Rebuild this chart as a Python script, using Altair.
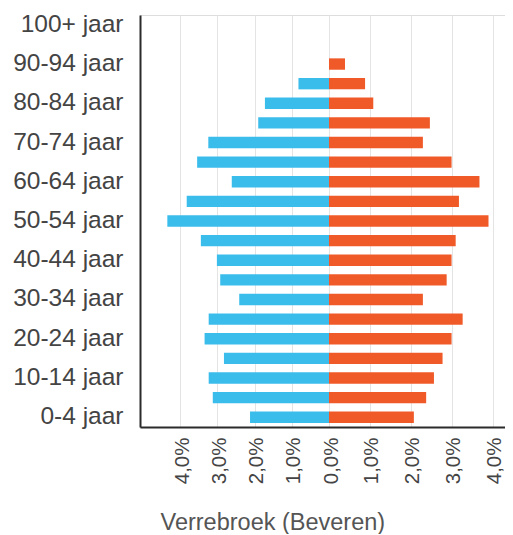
import altair as alt
import pandas as pd

ages = ["0-4 jaar", "5-9 jaar", "10-14 jaar", "15-19 jaar", "20-24 jaar",
        "25-29 jaar", "30-34 jaar", "35-39 jaar", "40-44 jaar", "45-49 jaar",
        "50-54 jaar", "55-59 jaar", "60-64 jaar", "65-69 jaar", "70-74 jaar",
        "75-79 jaar", "80-84 jaar", "85-89 jaar", "90-94 jaar", "95-99 jaar",
        "100+ jaar"]
men = [2.12, 3.12, 3.23, 2.82, 3.34, 3.23, 2.41, 2.92, 3.01, 3.44,
       4.34, 3.82, 2.61, 3.54, 3.24, 1.90, 1.72, 0.82, 0.0, 0.0, 0.0]
women = [2.07, 2.37, 2.56, 2.77, 2.99, 3.26, 2.29, 2.87, 2.99, 3.09,
         3.89, 3.17, 3.67, 2.99, 2.29, 2.46, 1.08, 0.88, 0.39, 0.0, 0.0]
shown_labels = ages[::2]
tick_values = [-4, -3, -2, -1, 0, 1, 2, 3, 4]

rows = []
for a, m, w in zip(ages, men, women):
    rows.append({"age": a, "sex": "man", "value": -m})
    rows.append({"age": a, "sex": "vrouw", "value": w})
df = pd.DataFrame(rows)

FONT = "Liberation Sans"

chart = alt.Chart(df).mark_bar().encode(
    y=alt.Y("age:N", sort=list(reversed(ages)),
            scale=alt.Scale(paddingInner=0.42, paddingOuter=0.21),
            axis=alt.Axis(title=None, values=shown_labels, ticks=False,
                          domain=True, domainColor="#2b2b2b", domainWidth=2,
                          labelFont=FONT, labelFontSize=24.5, labelColor="#444444",
                          labelPadding=17, grid=False)),
    x=alt.X("value:Q", stack=None,
            scale=alt.Scale(domain=[-5.074, 0, 4.293], range=[0, 189, 365],
                            nice=False, zero=False),
            axis=alt.Axis(values=tick_values, ticks=False, grid=True,
                          gridColor="#e4e4e4", gridWidth=1,
                          domain=True, domainColor="#2b2b2b", domainWidth=2,
                          labelAngle=-90, labelFont=FONT, labelFontSize=20.5,
                          labelColor="#444444", labelPadding=10, labelOffset=2,
                          labelExpr="replace(format(abs(datum.value), '.1f'), '.', ',') + '%'",
                          title="Verrebroek (Beveren)", titleFont=FONT,
                          titleFontSize=23.5, titleFontWeight="normal",
                          titleColor="#555555", titleAlign="left",
                          titleAnchor="start", titleX=20, titleY=102,
                          titleBaseline="alphabetic")),
    color=alt.Color("sex:N",
                    scale=alt.Scale(domain=["man", "vrouw"],
                                    range=["#3bbdec", "#f05a28"]),
                    legend=None),
).properties(
    width=365,
    height=412,
    autosize=alt.AutoSizeParams(type="none"),
    padding={"left": 132, "top": 7, "right": 0, "bottom": 107},
).configure_view(stroke=None).configure(background="white")

chart.save("out.html", embed_options={"renderer": "svg", "actions": False})
